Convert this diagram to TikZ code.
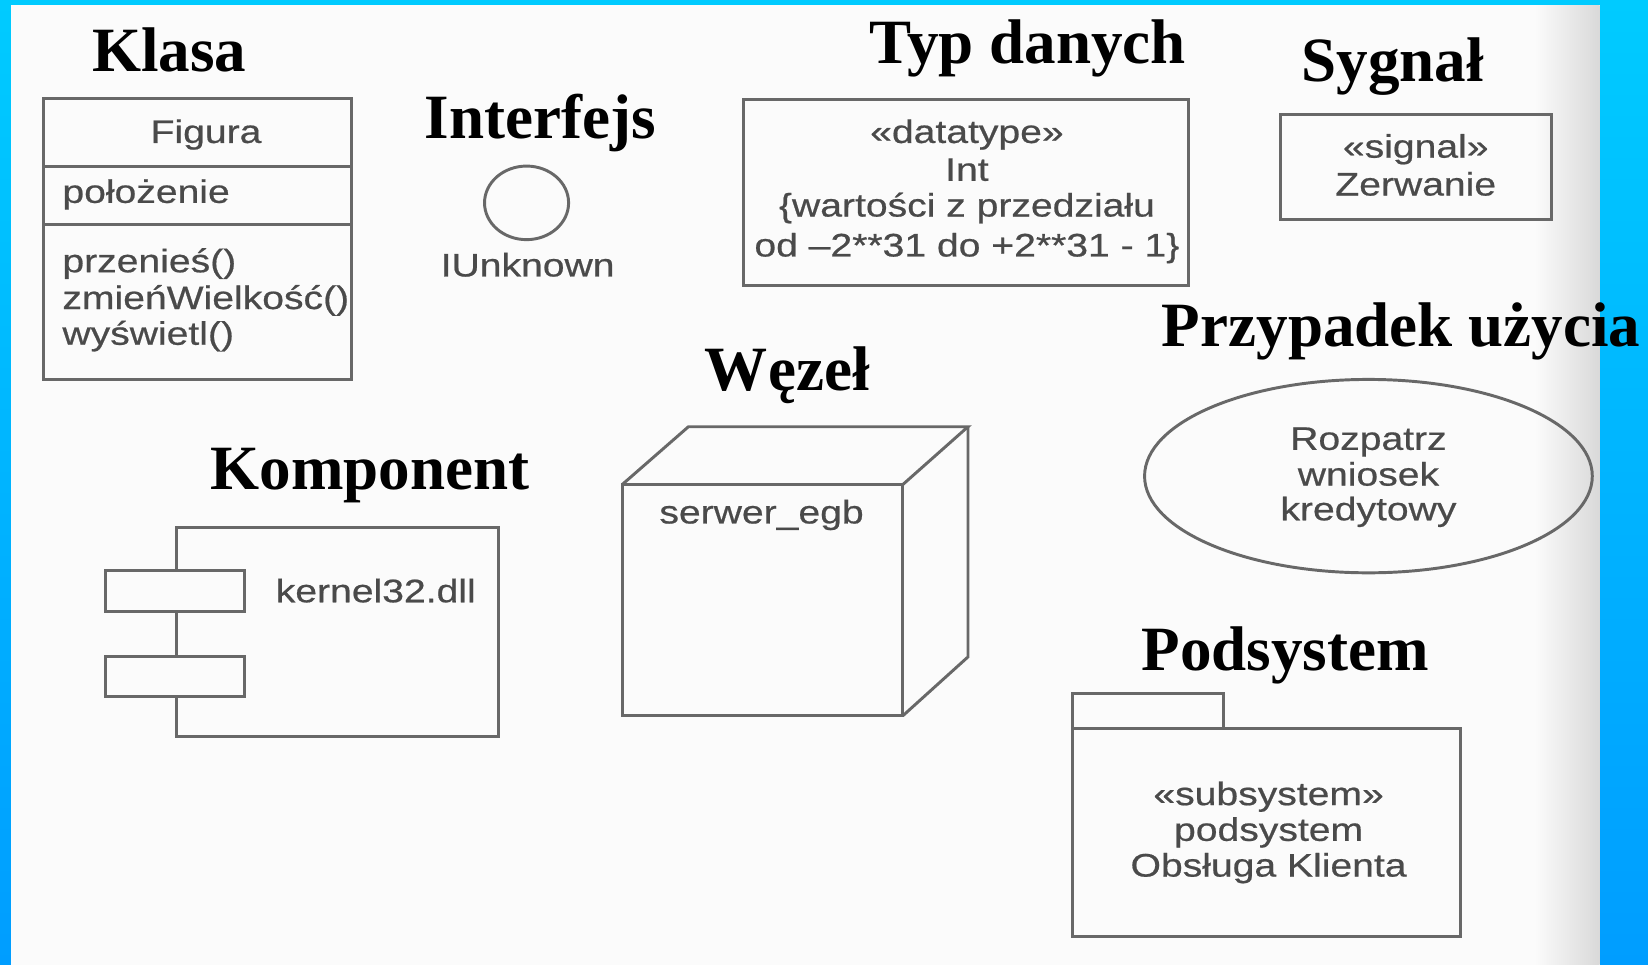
\documentclass[tikz,border=0pt]{standalone}
\usepackage{fontspec}
\newfontfamily\headfont{Liberation Serif}
\newfontfamily\bodyfont{Liberation Sans}[FakeStretch=1.2,FakeBold=0.6]
\definecolor{pagebg}{HTML}{FBFBFB}
\definecolor{pageedge}{HTML}{D9D9D9}
\definecolor{umlline}{HTML}{686868}
\definecolor{umlink}{HTML}{4A4A4A}
\definecolor{frametop}{HTML}{00CBFF}
\definecolor{framebot}{HTML}{009DFF}
\tikzset{
  heading/.style={font=\headfont\bfseries\fontsize{30}{36}\selectfont,
    text=black, inner sep=0pt, anchor=base},
  umltxt/.style={font=\bodyfont\fontsize{15.5}{17.8}\selectfont,
    text=umlink, inner sep=0pt, anchor=base},
  umlleft/.style={umltxt, anchor=base west},
  umlshape/.style={draw=umlline, line width=1.4pt, line join=miter},
}
\begin{document}
\begin{tikzpicture}[x=0.5pt,y=-0.5pt]
  % blue frame and scanned page
  \shade[top color=frametop, bottom color=framebot] (0,0) rectangle (1568,918);
  \useasboundingbox (0,0) rectangle (1568,918);
  \fill[pagebg] (10,5) rectangle (1522,918);
  \shade[left color=pagebg, right color=pageedge] (1460,5) rectangle (1522,918);

  % ---- Klasa
  \node[heading] (hKlasa) at (161,68) {Klasa};
  \draw[umlshape] (41,94) rectangle (334,361);
  \draw[umlshape] (41,158) -- (334,158);
  \draw[umlshape] (41,214) -- (334,214);
  \node[umltxt] (clsName) at (196,136) {Figura};
  \node[umlleft] (clsAttr) at (59,193) {położenie};
  \node[umlleft] (clsOp1) at (59,259) {przenieś()};
  \node[umlleft] (clsOp2) at (59,294) {zmieńWielkość()};
  \node[umlleft] (clsOp3) at (59,328) {wyświetl()};

  % ---- Interfejs
  \node[heading] (hInterfejs) at (514,132) {Interfejs};
  \draw[umlshape] (501,193) ellipse [x radius=40, y radius=35];
  \node[umltxt] (ifName) at (502,263) {IUnknown};

  % ---- Typ danych
  \node[heading] (hTyp) at (978,60) {Typ danych};
  \draw[umlshape] (707,95) rectangle (1131,272);
  \node[umltxt] (dt1) at (920,136) {«datatype»};
  \node[umltxt] (dt2) at (920,172) {Int};
  \node[umltxt] (dt3) at (920,206) {\{wartości z przedziału};
  \node[umltxt] (dt4) at (920,244) {od –2**31 do +2**31 - 1\}};

  % ---- Sygnał
  \node[heading] (hSygnal) at (1325,78) {Sygnał};
  \draw[umlshape] (1218,109) rectangle (1476,209);
  \node[umltxt] (sg1) at (1347,150) {«signal»};
  \node[umltxt] (sg2) at (1347,186) {Zerwanie};

  % ---- Przypadek użycia
  \node[heading] (hUseCase) at (1333,330) {Przypadek użycia};
  \draw[umlshape] (1302,453) ellipse [x radius=213, y radius=92];
  \node[umltxt] (uc1) at (1302,428) {Rozpatrz};
  \node[umltxt] (uc2) at (1302,462) {wniosek};
  \node[umltxt] (uc3) at (1302,495) {kredytowy};

  % ---- Węzeł
  \node[heading] (hWezel) at (749,372) {Węzeł};
  \draw[umlshape] (592,461) rectangle (859,681);
  \draw[umlshape] (592,461) -- (655,406) -- (921,406) -- (859,461);
  \draw[umlshape] (921,406) -- (921,625) -- (859,681);
  \node[umlleft] (ndName) at (627,498) {serwer\_egb};

  % ---- Komponent
  \node[heading] (hKomponent) at (352,466) {Komponent};
  \draw[umlshape] (168,502) rectangle (474,701);
  \draw[umlshape, fill=pagebg] (100,543) rectangle (233,582);
  \draw[umlshape, fill=pagebg] (100,625) rectangle (233,663);
  \node[umlleft] (cpName) at (262,573) {kernel32.dll};

  % ---- Podsystem
  \node[heading] (hPodsystem) at (1223,638) {Podsystem};
  \draw[umlshape] (1020,693) -- (1020,660) -- (1164,660) -- (1164,693);
  \draw[umlshape] (1020,693) rectangle (1390,891);
  \node[umltxt] (ss1) at (1207,766) {«subsystem»};
  \node[umltxt] (ss2) at (1207,800) {podsystem};
  \node[umltxt] (ss3) at (1207,834) {Obsługa Klienta};
\end{tikzpicture}
\end{document}
